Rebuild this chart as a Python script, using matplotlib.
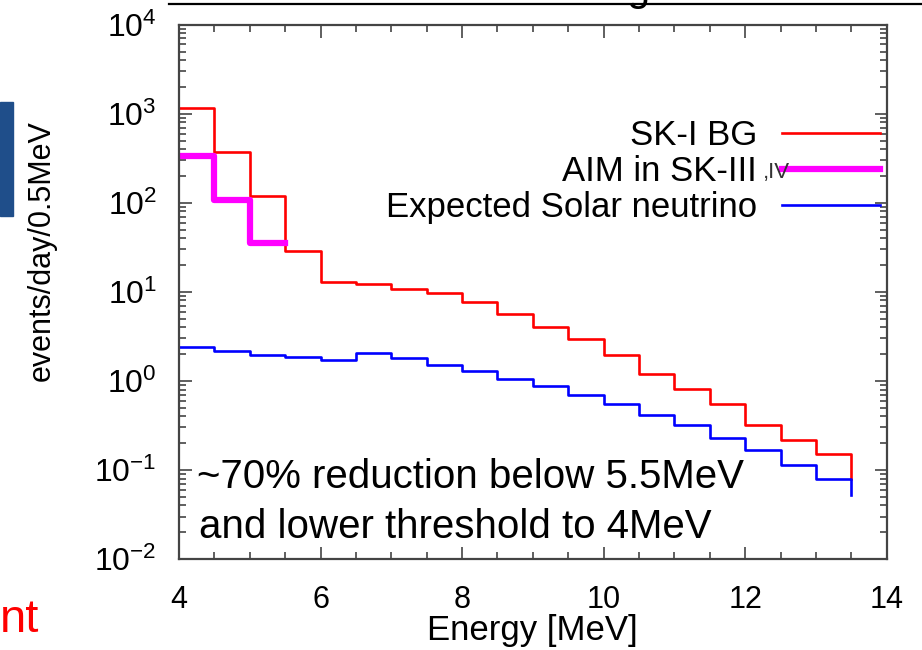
import numpy as np
import matplotlib
matplotlib.use("Agg")
import matplotlib.pyplot as plt
from matplotlib.lines import Line2D
from matplotlib.patches import Rectangle
from matplotlib.ticker import MultipleLocator, LogLocator, LogFormatterSciNotation, NullFormatter

plt.rcParams['font.family'] = ['Liberation Sans', 'DejaVu Sans']
plt.rcParams['mathtext.fontset'] = 'custom'
plt.rcParams['mathtext.rm'] = 'Liberation Sans'

# lower edge of each 0.5 MeV bin
energy = [4.0, 4.5, 5.0, 5.5, 6.0, 6.5, 7.0, 7.5, 8.0, 8.5,
          9.0, 9.5, 10.0, 10.5, 11.0, 11.5, 12.0, 12.5, 13.0, 13.5]
sk1_bg = [1150, 374, 119, 28.9, 12.9, 12.4, 10.9, 9.6, 7.7, 5.7,
          4.05, 2.92, 1.94, 1.21, 0.82, 0.547, 0.318, 0.216, 0.150, 0.080]
aim_energy = [4.0, 4.5, 5.0, 5.5]
aim_sk34 = [335, 107, 35, 35]
solar_nu = [2.41, 2.17, 1.94, 1.86, 1.71, 2.07, 1.79, 1.50, 1.29, 1.04,
            0.871, 0.69, 0.547, 0.419, 0.318, 0.231, 0.166, 0.115, 0.080, 0.052]

fig = plt.figure(figsize=(9.22, 6.5), dpi=100)
ax = fig.add_axes([179 / 922, 1 - 559 / 650, 707.7 / 922, 534.3 / 650])

ax.step(energy, sk1_bg, where="post", color="#ff0000", lw=1.9, label="SK-I BG")
ax.step(aim_energy, aim_sk34, where="post", color="#ff00ff", lw=4.5, label="AIM in SK-III")
ax.step(energy, solar_nu, where="post", color="#0000ff", lw=1.9, label="Expected Solar neutrino")

ax.set_yscale("log")
ax.set_xlim(4, 14)
ax.set_ylim(1e-2, 1e4)

# ticks inside on all sides, gnuplot style
ax.xaxis.set_major_locator(MultipleLocator(2))
ax.xaxis.set_minor_locator(MultipleLocator(0.5))
ax.yaxis.set_major_locator(LogLocator(base=10, numticks=10))
ax.yaxis.set_minor_locator(LogLocator(base=10, subs=np.arange(2, 10), numticks=20))
ax.yaxis.set_major_formatter(LogFormatterSciNotation())
ax.yaxis.set_minor_formatter(NullFormatter())
frame_col = "#444444"
ax.tick_params(which="both", direction="in", top=True, right=True, color=frame_col, width=1.2)
ax.tick_params(which="major", length=9)
ax.tick_params(which="minor", length=5)
ax.tick_params(axis="x", which="major", labelsize=22, pad=19)
ax.tick_params(axis="y", which="major", labelsize=23, pad=16)
for sp in ax.spines.values():
    sp.set_color(frame_col)
    sp.set_linewidth(1.6)

ax.set_xlabel("Energy [MeV]", fontsize=25, labelpad=-1)
fig.text(42 / 922, 1 - 251 / 650, "events/day/0.5MeV", rotation=90, fontsize=22,
         ha="center", va="center")

leg = ax.legend(loc="upper right", bbox_to_anchor=(0.9905, 0.8235), markerfirst=False,
                frameon=False, fontsize=25, handlelength=2.82, handletextpad=0.72,
                labelspacing=0.09, borderpad=0, borderaxespad=0)
# the ",IV" pasted after the second legend entry
fig.text(763 / 922, 1 - 178 / 650, ",IV", fontsize=16, color="#333333", ha="left", va="baseline")

ax.text(0.026, 0.133, "~70% reduction below 5.5MeV", transform=ax.transAxes,
        fontsize=29, va="baseline", ha="left")
ax.text(0.028, 0.039, "and lower threshold to 4MeV", transform=ax.transAxes,
        fontsize=29, va="baseline", ha="left")

# pieces of the surrounding slide
fig.add_artist(Line2D([169 / 922, 1.0], [1 - 4 / 650, 1 - 4 / 650], color="black", lw=1.6))
fig.text(626 / 922, 1.0, "g", fontsize=30, va="baseline", ha="left")
fig.add_artist(Rectangle((0, 1 - 216 / 650), 13 / 922, 114 / 650, color="#1f4e8a",
                         transform=fig.transFigure))
fig.text(0.0, 1 - 632 / 650, "nt", fontsize=34, color="#ff0000", va="baseline", ha="left")

fig.savefig("out.png", dpi=100)
